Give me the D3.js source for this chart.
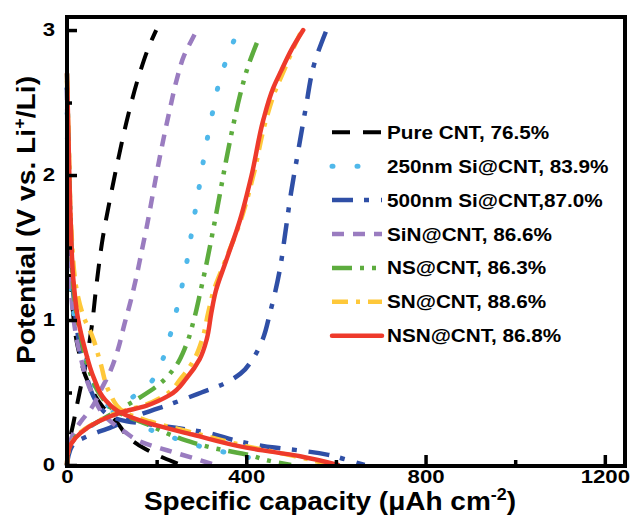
<!DOCTYPE html>
<html>
<head>
<meta charset="utf-8">
<script src="https://cdn.jsdelivr.net/npm/d3@7"></script>
<style>
  body { margin: 0; background: #fff; }
  text { font-family: "Liberation Sans", Arial, sans-serif; font-weight: bold; fill: #000; }
</style>
</head>
<body>
<div id="chart"></div>
<script>
// axis ticks
var xTicks = [0, 400, 800, 1200],
  xMinor = [200, 600, 1000],
  yTicks = [0, 1, 2, 3],
  yMinor = [0.5, 1.5, 2.5];

// [capacity (uAh cm-2), potential (V)]
var pureCharge = [[0,0],[5,0.15],[15,0.3],[28,0.5],[42,0.7],[55,0.95],[66,1.25],[80,1.57],[97,1.85],[115,2.12],[137,2.42],[162,2.7],[182,2.88],[199,3.0]];
var pureDischarge = [[0,2.6],[3,1.8],[10,1.2],[25,0.8],[50,0.55],[80,0.4],[110,0.3],[145,0.17],[175,0.11],[215,0.05],[255,0]];

var si250Charge = [[0,0],[2,0.08],[10,0.15],[28,0.22],[70,0.3],[110,0.38],[143,0.46],[181,0.55],[207,0.68],[225,0.84],[239,1.0],[252,1.17],[265,1.36],[279,1.62],[294,1.9],[310,2.2],[326,2.45],[343,2.68],[360,2.83],[374,2.94]];
var si250Discharge = [[0,2.6],[5,1.5],[15,1.05],[40,0.75],[70,0.5],[110,0.36],[180,0.25],[255,0.17],[320,0.11],[380,0.07],[420,0.04],[455,0]];

var si500Charge = [[0,0],[3,0.06],[16,0.15],[47,0.2],[98,0.26],[165,0.35],[240,0.43],[300,0.5],[350,0.56],[387,0.63],[414,0.73],[437,0.87],[453,1.05],[465,1.2],[475,1.35],[487,1.6],[500,1.88],[515,2.15],[532,2.45],[552,2.77],[579,3.0]];
var si500Discharge = [[0,2.6],[4,2.0],[10,1.4],[20,1.0],[38,0.68],[76,0.39],[121,0.31],[210,0.27],[300,0.23],[389,0.16],[463,0.12],[520,0.1],[583,0.07],[620,0.04],[664,0]];

var sinCharge = [[0,0],[3,0.1],[16,0.23],[31,0.3],[54,0.39],[76,0.52],[97,0.65],[114,0.8],[128,0.97],[142,1.13],[155,1.3],[167,1.48],[179,1.66],[191,1.86],[203,2.06],[216,2.26],[230,2.46],[245,2.66],[262,2.83],[278,2.93],[290,3.0]];
var sinDischarge = [[0,2.6],[5,1.5],[15,1.0],[30,0.75],[55,0.5],[90,0.32],[128,0.23],[165,0.16],[225,0.1],[290,0.04],[330,0]];

var nsCharge = [[0,0],[2,0.08],[10,0.15],[28,0.22],[70,0.3],[121,0.39],[165,0.47],[203,0.55],[240,0.67],[265,0.82],[283,1.0],[298,1.2],[312,1.4],[326,1.62],[340,1.85],[355,2.1],[370,2.33],[386,2.55],[404,2.75],[426,2.93]];
var nsDischarge = [[0,2.7],[3,2.3],[8,1.7],[15,1.2],[30,0.9],[50,0.65],[75,0.48],[110,0.37],[180,0.28],[255,0.18],[337,0.11],[404,0.07],[450,0.03],[500,0]];

var snCharge = [[0,0],[2,0.08],[10,0.15],[28,0.22],[68,0.3],[112,0.36],[170,0.41],[218,0.48],[255,0.6],[284,0.73],[302,0.87],[315,1.05],[327,1.2],[352,1.4],[388,1.69],[416,2.0],[444,2.38],[467,2.6],[484,2.72],[503,2.86],[524,3.0]];
var snDischarge = [[0,2.65],[4,2.2],[10,1.6],[22,1.2],[40,1.0],[55,0.9],[75,0.7],[95,0.5],[125,0.37],[185,0.3],[285,0.22],[400,0.13],[510,0.06],[590,0]];

var nsnCharge = [[0,0],[2,0.08],[10,0.15],[30,0.22],[70,0.3],[118,0.36],[178,0.41],[228,0.48],[267,0.6],[296,0.73],[312,0.87],[322,1.05],[332,1.2],[354,1.4],[386,1.69],[412,2.0],[438,2.38],[460,2.6],[478,2.72],[500,2.86],[527,3.0]];
var nsnDischarge = [[0,2.7],[3,2.3],[8,1.7],[15,1.25],[25,1.0],[40,0.8],[60,0.6],[85,0.45],[120,0.36],[180,0.29],[280,0.21],[400,0.12],[520,0.06],[605,0]];

var names = ["Pure CNT, 76.5%", "250nm Si@CNT, 83.9%", "500nm Si@CNT,87.0%", "SiN@CNT, 86.6%", "NS@CNT, 86.3%", "SN@CNT, 88.6%", "NSN@CNT, 86.8%"];
var curves = [
  [pureCharge, pureDischarge],
  [si250Charge, si250Discharge],
  [si500Charge, si500Discharge],
  [sinCharge, sinDischarge],
  [nsCharge, nsDischarge],
  [snCharge, snDischarge],
  [nsnCharge, nsnDischarge]
];

// line looks, same order as names
var styles = [
  { color: "#000000", dash: "18,13", width: 4, cap: "butt" },
  { color: "#4fb8ea", dash: "1,24", width: 5, cap: "round" },
  { color: "#2f4fa6", dash: "21,11,5,12", width: 4.5, cap: "butt" },
  { color: "#9a7cc0", dash: "12,9", width: 4.5, cap: "butt" },
  { color: "#5dac3e", dash: "20,8,4,8,4,8", width: 4.5, cap: "butt" },
  { color: "#fec83a", dash: "16,8,4,8", width: 4.5, cap: "butt" },
  { color: "#ee3a2b", dash: null, width: 4.5, cap: "round" }
];

var W = 632, H = 527;
var x = d3.scaleLinear().domain([0, 1245]).range([67, 625]);
var y = d3.scaleLinear().domain([0, 3.09]).range([465, 17]);

var svg = d3.select("#chart").append("svg")
  .attr("width", W)
  .attr("height", H);

// potential is monotonic along every branch, so interpolate along y
var line = d3.line()
  .x(function(d) { return x(d[0]); })
  .y(function(d) { return y(d[1]); })
  .curve(d3.curveMonotoneY);

var plot = svg.append("g");
curves.forEach(function(pair, i) {
  var s = styles[i];
  pair.forEach(function(pts) {
    plot.append("path")
      .attr("d", line(pts))
      .attr("fill", "none")
      .attr("stroke", s.color)
      .attr("stroke-width", s.width)
      .attr("stroke-linecap", s.cap)
      .attr("stroke-linejoin", "round")
      .attr("stroke-dasharray", s.dash);
  });
});

// axes, ticks pointing inward
svg.append("g")
  .attr("transform", "translate(0," + y(0) + ")")
  .call(d3.axisBottom(x).tickValues(xTicks).tickSize(-10).tickPadding(5).tickFormat(d3.format("d")));
svg.append("g")
  .attr("transform", "translate(0," + y(0) + ")")
  .call(d3.axisBottom(x).tickValues(xMinor).tickSize(-5).tickFormat(""));
svg.append("g")
  .attr("transform", "translate(" + x(0) + ",0)")
  .call(d3.axisLeft(y).tickValues(yTicks).tickSize(-10).tickPadding(10).tickFormat(d3.format("d")));
svg.append("g")
  .attr("transform", "translate(" + x(0) + ",0)")
  .call(d3.axisLeft(y).tickValues(yMinor).tickSize(-5).tickFormat(""));

svg.selectAll(".domain").remove();
svg.selectAll(".tick line").attr("stroke", "#000").attr("stroke-width", 3.5);
svg.selectAll(".tick text")
  .attr("font-size", 18.5)
  .attr("font-family", null)
  .attr("transform", "scale(1.2,1)");

// frame
svg.append("rect")
  .attr("x", x(0))
  .attr("y", y(3.09))
  .attr("width", x(1245) - x(0))
  .attr("height", y(0) - y(3.09) + 1)
  .attr("fill", "none")
  .attr("stroke", "#000")
  .attr("stroke-width", 4);

// axis titles
var xt = svg.append("text")
  .attr("transform", "translate(330,510) scale(1.12,1)")
  .attr("text-anchor", "middle")
  .attr("font-size", 25);
xt.append("tspan").text("Specific capacity (\u03bcAh cm");
xt.append("tspan").attr("dy", -10).attr("font-size", 16).text("-2");
xt.append("tspan").attr("dy", 10).text(")");

var yt = svg.append("text")
  .attr("transform", "translate(35,220) rotate(-90) scale(1.13,1)")
  .attr("text-anchor", "middle")
  .attr("font-size", 25);
yt.append("tspan").text("Potential (V vs. Li");
yt.append("tspan").attr("dy", -10).attr("font-size", 16).text("+");
yt.append("tspan").attr("dy", 10).text("/Li)");

// legend
var legend = svg.append("g");
names.forEach(function(name, i) {
  var s = styles[i];
  var ly = 132.3 + i * 33.9;
  legend.append("line")
    .attr("x1", 332).attr("x2", 382)
    .attr("y1", ly).attr("y2", ly)
    .attr("stroke", s.color)
    .attr("stroke-width", s.width)
    .attr("stroke-linecap", s.cap)
    .attr("stroke-dasharray", s.dash);
  legend.append("text")
    .attr("transform", "translate(387," + (ly + 6.5) + ") scale(1.15,1)")
    .attr("font-size", 18)
    .text(name);
});
</script>
</body>
</html>
